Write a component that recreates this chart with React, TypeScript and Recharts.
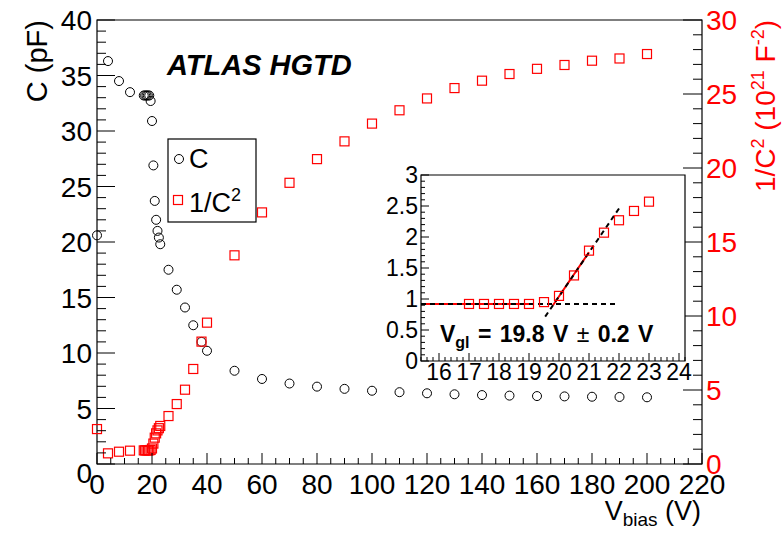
import React from "react";
import { ComposedChart, Scatter, Line, XAxis, YAxis, ReferenceArea } from "recharts";

// bias voltage (V)
const biasVoltage = [
  0, 4, 8, 12, 17, 17.5, 18, 18.5, 19, 19.5, 20, 20.5, 21, 21.5, 22, 22.5, 23, 26, 29, 32, 35, 38, 40,
  50, 60, 70, 80, 90, 100, 110, 120, 130, 140, 150, 160, 170, 180, 190, 200,
];
// capacitance (pF)
const capacitance = [
  20.6, 36.3, 34.5, 33.5, 33.2, 33.2, 33.2, 33.2, 33.2, 32.7, 30.9, 26.9, 23.7, 22.0, 21.0, 20.4, 19.8,
  17.5, 15.7, 14.1, 12.5, 11.0, 10.2, 8.4, 7.66, 7.25, 6.97, 6.77, 6.6, 6.47, 6.37, 6.28, 6.21, 6.16,
  6.12, 6.09, 6.06, 6.04, 6.01,
];
// 1/C^2 (10^21 F^-2)
const invCapSquared = [
  2.36, 0.72, 0.83, 0.9, 0.92, 0.92, 0.92, 0.92, 0.92, 0.95, 1.05, 1.38, 1.78, 2.07, 2.27, 2.42, 2.57,
  3.24, 4.05, 5.02, 6.42, 8.27, 9.55, 14.1, 17.0, 19.0, 20.6, 21.8, 23.0, 23.9, 24.7, 25.4, 25.9, 26.35,
  26.7, 26.96, 27.25, 27.4, 27.7,
];

// linear fits shown in the inset
const plateauFit = [{ v: 15.4, y: 0.92 }, { v: 21.9, y: 0.92 }];
const plateauFitRange = [{ v: 15.4, y: 0.92 }, { v: 19.0, y: 0.92 }];
const slopeFit = [{ v: 19.54, y: 0.715 }, { v: 22.0, y: 2.46 }];
const slopeFitRange = [{ v: 19.8, y: 0.9 }, { v: 21.0, y: 1.755 }];

const xTicks = Array.from({ length: 45 }, (_, i) => i * 5);
const cTicks = Array.from({ length: 41 }, (_, i) => i);
const rTicks = Array.from({ length: 31 }, (_, i) => i);
const insetXTicks = Array.from({ length: 45 }, (_, i) => Math.round((15.4 + 0.2 * i) * 10) / 10);
const insetYTicks = Array.from({ length: 31 }, (_, i) => i / 10);

const rows = biasVoltage.map((v, i) => ({ v, c: capacitance[i], r: invCapSquared[i] }));
const insetRows = rows.filter((d) => d.v >= 15.4 && d.v <= 24.2);

const FONT = "'Liberation Sans', Arial, Helvetica, sans-serif";
const RED = "#ff0000";

const CircleDot = (p: any) => (
  <circle cx={p.cx} cy={p.cy} r={4.5} fill="none" stroke="#000" strokeWidth={1} />
);
const SquareDot = (p: any) => (
  <rect x={p.cx - 4.5} y={p.cy - 4.5} width={9} height={9} fill="none" stroke={RED} strokeWidth={1.2} />
);

function MainXTick({ x, y, payload }: any) {
  const v = payload.value;
  const major = v % 20 === 0;
  return (
    <g>
      <line x1={x} x2={x} y1={y} y2={y - (major ? 11 : 6)} stroke="#000" />
      {major && (
        <text x={x} y={y + 30} textAnchor="middle" fontSize={28} fontFamily={FONT} fill="#000">
          {v}
        </text>
      )}
    </g>
  );
}

function LeftTick({ x, y, payload }: any) {
  const v = payload.value;
  const major = v % 5 === 0;
  return (
    <g>
      <line x1={x} x2={x + (major ? 18 : 9)} y1={y} y2={y} stroke="#000" />
      {major && (
        <text x={x - 5} y={y + (v === 0 ? 9 : 0)} dy="0.36em" textAnchor="end" fontSize={28} fontFamily={FONT} fill="#000">
          {v}
        </text>
      )}
    </g>
  );
}

function RightTick({ x, y, payload }: any) {
  const v = payload.value;
  const major = v % 5 === 0;
  return (
    <g>
      <line x1={x} x2={x - (major ? 19 : 9)} y1={y} y2={y} stroke="#000" />
      {major && (
        <text x={x + 4} y={y} dy="0.36em" textAnchor="start" fontSize={28} fontFamily={FONT} fill={RED}>
          {v}
        </text>
      )}
    </g>
  );
}

function InsetXTick({ x, y, payload }: any) {
  const v = payload.value;
  const major = Number.isInteger(v);
  return (
    <g>
      <line x1={x} x2={x} y1={y} y2={y - (major ? 8 : 4)} stroke="#000" />
      {major && (
        <text x={x} y={y + 19} textAnchor="middle" fontSize={23} fontFamily={FONT} fill="#000">
          {v}
        </text>
      )}
    </g>
  );
}

function InsetYTick({ x, y, payload }: any) {
  const v = payload.value;
  const major = Math.round(v * 10) % 5 === 0;
  return (
    <g>
      <line x1={x} x2={x + (major ? 8 : 4)} y1={y} y2={y} stroke="#000" />
      {major && (
        <text x={x - 3} y={y} dy="0.36em" textAnchor="end" fontSize={23} fontFamily={FONT} fill="#000">
          {v}
        </text>
      )}
    </g>
  );
}

export default function App() {
  return (
    <div style={{ position: "absolute", left: 0, top: 0, width: 782, height: 534, background: "#fff", fontFamily: FONT }}>
      <ComposedChart width={782} height={534} data={rows} margin={{ top: 20, right: 0, bottom: 0, left: 0 }}>
        <XAxis
          dataKey="v"
          type="number"
          domain={[0, 220]}
          ticks={xTicks}
          interval={0}
          height={70}
          axisLine={false}
          tickLine={false}
          tickSize={0}
          tickMargin={0}
          tick={(p: any) => <MainXTick {...p} />}
        />
        <YAxis
          yAxisId="c"
          dataKey="c"
          type="number"
          domain={[0, 40]}
          ticks={cTicks}
          interval={0}
          width={97}
          axisLine={false}
          tickLine={false}
          tickSize={0}
          tickMargin={0}
          tick={(p: any) => <LeftTick {...p} />}
        />
        <YAxis
          yAxisId="r"
          dataKey="r"
          orientation="right"
          type="number"
          domain={[0, 30]}
          ticks={rTicks}
          interval={0}
          width={80}
          axisLine={false}
          tickLine={false}
          tickSize={0}
          tickMargin={0}
          tick={(p: any) => <RightTick {...p} />}
        />
        <ReferenceArea yAxisId="c" x1={0} x2={220} y1={0} y2={40} fill="none" stroke="#000" strokeWidth={1.2} />
        <Scatter yAxisId="c" dataKey="c" shape={CircleDot} isAnimationActive={false} />
        <Scatter yAxisId="r" dataKey="r" shape={SquareDot} isAnimationActive={false} />
      </ComposedChart>

      {/* inset: zoom on the gain-layer depletion */}
      <div style={{ position: "absolute", left: 421, top: 175, width: 264, height: 186, background: "#fff" }} />
      <div style={{ position: "absolute", left: 370, top: 160 }}>
        <ComposedChart width={330} height={230} data={insetRows} margin={{ top: 15, right: 15, bottom: 0, left: 0 }}>
          <XAxis
            dataKey="v"
            type="number"
            domain={[15.4, 24.2]}
            ticks={insetXTicks}
            interval={0}
            height={29}
            axisLine={false}
            tickLine={false}
            tickSize={0}
            tickMargin={0}
            allowDataOverflow
            tick={(p: any) => <InsetXTick {...p} />}
          />
          <YAxis
            dataKey="r"
            type="number"
            domain={[0, 3]}
            ticks={insetYTicks}
            interval={0}
            width={51}
            axisLine={false}
            tickLine={false}
            tickSize={0}
            tickMargin={0}
            allowDataOverflow
            tick={(p: any) => <InsetYTick {...p} />}
          />
          <ReferenceArea x1={15.4} x2={24.2} y1={0} y2={3} fill="none" stroke="#000" strokeWidth={1.2} />
          <Line data={plateauFitRange} dataKey="y" stroke={RED} strokeWidth={2} dot={false} isAnimationActive={false} />
          <Line data={slopeFitRange} dataKey="y" stroke={RED} strokeWidth={2} dot={false} isAnimationActive={false} />
          <Line data={plateauFit} dataKey="y" stroke="#000" strokeWidth={2} strokeDasharray="5 4" dot={false} isAnimationActive={false} />
          <Line data={slopeFit} dataKey="y" stroke="#000" strokeWidth={2} strokeDasharray="5 4" dot={false} isAnimationActive={false} />
          <Scatter dataKey="r" shape={SquareDot} isAnimationActive={false} />
        </ComposedChart>
      </div>

      {/* titles, legend, annotations */}
      <svg width={782} height={534} style={{ position: "absolute", left: 0, top: 0, pointerEvents: "none" }} fontFamily={FONT}>
        <text x={167} y={75} fontSize={29} fontWeight="bold" fontStyle="italic" fill="#000">
          ATLAS HGTD
        </text>

        <text x={47} y={20} transform="rotate(-90 47 20)" textAnchor="end" fontSize={29} fill="#000">
          C (pF)
        </text>

        <text x={775} y={20} transform="rotate(-90 775 20)" textAnchor="end" fontSize={28} fill={RED}>
          1/C<tspan dy={-11} fontSize={18}>2</tspan>
          <tspan dy={11}> (10</tspan>
          <tspan dy={-11} fontSize={18}>21</tspan>
          <tspan dy={11}> F</tspan>
          <tspan dy={-11} fontSize={18}>-2</tspan>
          <tspan dy={11}>)</tspan>
        </text>

        <text x={701} y={520} textAnchor="end" fontSize={27} fill="#000">
          V<tspan dy={6} fontSize={19}>bias</tspan>
          <tspan dy={-6}> (V)</tspan>
        </text>

        <rect x={168} y={139} width={88} height={83} fill="#fff" stroke="#000" strokeWidth={1.2} />
        <circle cx={179} cy={159} r={4.5} fill="none" stroke="#000" />
        <text x={189} y={168} fontSize={27} fill="#000">C</text>
        <rect x={173.5} y={195.5} width={9} height={9} fill="none" stroke={RED} strokeWidth={1.2} />
        <text x={189} y={212} fontSize={27} fill="#000">
          1/C<tspan dy={-11} fontSize={18}>2</tspan>
        </text>

        <text x={440} y={342} fontSize={23} fontWeight="bold" fill="#000" wordSpacing={2}>
          V<tspan dy={6} fontSize={16}>gl</tspan>
          <tspan dy={-6}> = 19.8 V </tspan>
          <tspan fontWeight="normal">±</tspan>
          <tspan> 0.2 V</tspan>
        </text>
      </svg>
    </div>
  );
}
